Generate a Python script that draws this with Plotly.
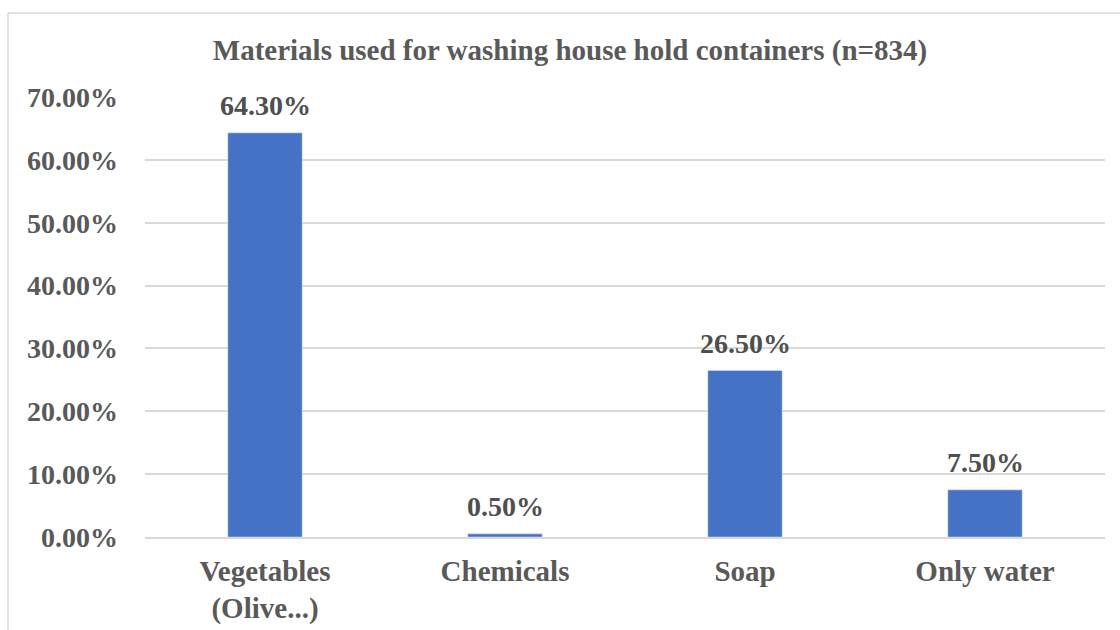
import plotly.graph_objects as go

categories = ["Vegetables<br>(Olive...)", "Chemicals", "Soap", "Only water"]
shares = [0.643, 0.005, 0.265, 0.075]
labels = ["64.30%", "0.50%", "26.50%", "7.50%"]
tick_vals = [0, 0.1, 0.2, 0.3, 0.4, 0.5, 0.6, 0.7]

FONT = "Liberation Serif"
GREY = "#595959"

fig = go.Figure(
    go.Bar(
        x=categories,
        y=shares,
        marker=dict(color="#4472C4"),
        width=0.31,
    )
)

# value labels above each bar
for cat, val, lab in zip(categories, shares, labels):
    fig.add_annotation(
        x=cat, y=val, text=f"<b>{lab}</b>",
        showarrow=False, yanchor="middle", yshift=27,
        font=dict(family=FONT, size=28, color="#4f4f4f"),
    )

# light frame around the chart area (top and left edges)
L, R, T, B = 145, 15, 97, 93
W, H = 1120, 630
pw, ph = W - L - R, H - T - B


def px_x(px):
    return (px - L) / pw


def px_y(py):
    return (H - B - py) / ph


fig.add_shape(type="line", xref="paper", yref="paper",
              x0=px_x(8), x1=px_x(1120), y0=px_y(13), y1=px_y(13),
              line=dict(color="#d9d9d9", width=1.5))
fig.add_shape(type="line", xref="paper", yref="paper",
              x0=px_x(8), x1=px_x(8), y0=px_y(13), y1=px_y(630),
              line=dict(color="#d9d9d9", width=1.5))

fig.update_layout(
    width=W,
    height=H,
    margin=dict(l=L, r=R, t=T, b=B),
    paper_bgcolor="white",
    plot_bgcolor="white",
    font=dict(family=FONT, color=GREY),
    title=dict(
        text="<b>Materials used for washing house hold containers (n=834)</b>",
        x=570 / W,
        xanchor="center",
        y=1 - 50 / H,
        yanchor="middle",
        font=dict(family=FONT, size=29, color=GREY),
    ),
    showlegend=False,
)

fig.update_yaxes(
    range=[0, 0.7],
    tickvals=tick_vals,
    tickformat=".2%",
    tickfont=dict(family=FONT, size=28, color=GREY, weight="bold"),
    showgrid=True,
    gridcolor="#d9d9d9",
    gridwidth=1.5,
    zeroline=False,
    showline=False,
    ticks="",
    ticklabelstandoff=26,
    automargin=False,
)
fig.update_xaxes(
    tickfont=dict(family=FONT, size=29, color=GREY, weight="bold"),
    showline=True,
    linecolor="#d9d9d9",
    linewidth=1.5,
    ticks="",
    ticklabelstandoff=7,
    automargin=False,
)

fig.write_html("out.html")
